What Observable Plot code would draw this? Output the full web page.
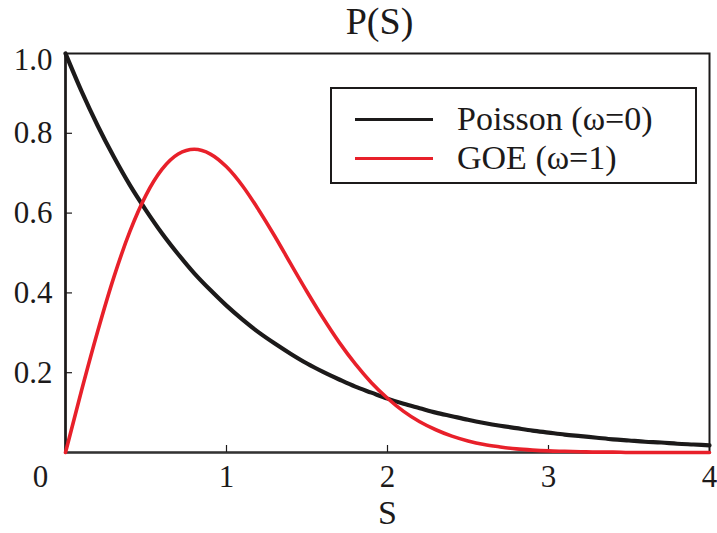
<!DOCTYPE html>
<html>
<head>
<meta charset="utf-8">
<script src="https://cdn.jsdelivr.net/npm/d3@7"></script>
<script src="https://cdn.jsdelivr.net/npm/@observablehq/plot@0.6"></script>
<style>
  body { margin: 0; background: #fff; }
  #wrap { position: relative; width: 717px; height: 533px; font-family: "Liberation Serif", "Times New Roman", Times, "DejaVu Serif", serif; color: #1c1a1a; }
  #chart svg, #chart svg text { font-family: "Liberation Serif", "Times New Roman", Times, "DejaVu Serif", serif !important; }
  #legend { position: absolute; left: 330px; top: 87px; width: 367px; height: 97px; border: 2px solid #1c1a1a; box-sizing: border-box; background: #fff; }
  .row { position: absolute; left: 0; height: 0; }
  .swatch { position: absolute; left: 23px; width: 78px; height: 3px; margin-top: -1.5px; }
  .lab { position: absolute; left: 125px; top: -19px; font-size: 34px; line-height: 38px; white-space: nowrap; }
</style>
</head>
<body>
<div id="wrap"><div id="chart"></div><div id="legend"></div></div>
<script>
// Data
const S = [0,0.1,0.2,0.3,0.4,0.5,0.6,0.7,0.8,0.9,1.0,1.1,1.2,1.3,1.4,1.5,1.6,1.7,1.8,1.9,2.0,
           2.1,2.2,2.3,2.4,2.5,2.6,2.7,2.8,2.9,3.0,3.1,3.2,3.3,3.4,3.5,3.6,3.7,3.8,3.9,4.0];
const poisson = [1.000,0.905,0.819,0.741,0.670,0.607,0.549,0.497,0.449,0.407,0.368,0.333,0.301,0.273,0.247,0.223,0.202,0.183,0.165,0.150,0.135,
                 0.122,0.111,0.100,0.091,0.082,0.074,0.067,0.061,0.055,0.050,0.045,0.041,0.037,0.033,0.030,0.027,0.025,0.022,0.020,0.018];
const goe = [0.000,0.156,0.304,0.439,0.554,0.645,0.710,0.748,0.760,0.748,0.716,0.668,0.608,0.542,0.472,0.403,0.337,0.276,0.222,0.175,0.136,
             0.103,0.077,0.057,0.041,0.029,0.020,0.014,0.009,0.006,0.004,0.003,0.002,0.001,0.001,0.000,0.000,0.000,0.000,0.000,0.000];
const seriesNames = ["Poisson (ω=0)", "GOE (ω=1)"];
const seriesColors = ["#1c1a1a", "#e8202a"];
const seriesWidths = [4.2, 3.6];
const yTicks = [0.2, 0.4, 0.6, 0.8];
const yTopTick = [1.0];
const xTicks = [1, 2, 3];
const xLabels = [1, 2, 3, 4];
const xOrigin = [0];
const title = "P(S)";
const xLabel = "S";

const data = S.flatMap((s, i) => [
  {S: s, P: poisson[i], series: seriesNames[0]},
  {S: s, P: goe[i], series: seriesNames[1]}
]);

const chart = Plot.plot({
  width: 717, height: 533,
  marginLeft: 65, marginRight: 8, marginTop: 53, marginBottom: 81,
  style: {background: "white", color: "#1c1a1a", overflow: "visible"},
  x: {domain: [0, 4], label: null},
  y: {domain: [0, 1], label: null},
  color: {domain: seriesNames, range: seriesColors},
  marks: [
    Plot.frame({stroke: "#1c1a1a", strokeWidth: 2}),
    Plot.ruleY([0], {stroke: "#333", strokeWidth: 2}),
    Plot.ruleX([0], {stroke: "#1c1a1a", strokeWidth: 2.5}),
    Plot.axisY(yTicks, {tickSize: -7, tickPadding: 20, fontSize: 31, tickFormat: ".1f", strokeWidth: 1.2, label: null}),
    Plot.axisY(yTopTick, {tickSize: 0, tickPadding: 13, dy: 7, fontSize: 31, tickFormat: ".1f", label: null}),
    Plot.axisX(xTicks, {tickSize: -7, tickFormat: () => "", strokeWidth: 1.2, label: null}),
    Plot.axisX(xLabels, {tickSize: 0, tickPadding: 12, fontSize: 31, tickFormat: d3.format("d"), label: null}),
    Plot.axisX(xOrigin, {tickSize: 0, tickPadding: 12, dx: -25, fontSize: 31, tickFormat: d3.format("d"), label: null}),
    Plot.line(data.filter(d => d.series === seriesNames[0]), {x: "S", y: "P", stroke: "series", strokeWidth: seriesWidths[0], curve: "monotone-x"}),
    Plot.line(data.filter(d => d.series === seriesNames[1]), {x: "S", y: "P", stroke: "series", strokeWidth: seriesWidths[1], curve: "monotone-x"}),
    Plot.text([xLabel], {frameAnchor: "bottom", lineAnchor: "middle", dy: 61, fontSize: 34, fill: "#1c1a1a"}),
    Plot.text([title], {frameAnchor: "top", lineAnchor: "middle", dy: -32, dx: -8, fontSize: 38, fill: "#1c1a1a"})
  ]
});
document.getElementById("chart").appendChild(chart);

// Legend
const legend = document.getElementById("legend");
const rowTops = [30, 69];
seriesNames.forEach((name, i) => {
  const row = document.createElement("div");
  row.className = "row";
  row.style.top = rowTops[i] + "px";
  const sw = document.createElement("div");
  sw.className = "swatch";
  sw.style.background = seriesColors[i];
  const lab = document.createElement("div");
  lab.className = "lab";
  lab.textContent = name;
  row.appendChild(sw); row.appendChild(lab);
  legend.appendChild(row);
});
</script>
</body>
</html>
